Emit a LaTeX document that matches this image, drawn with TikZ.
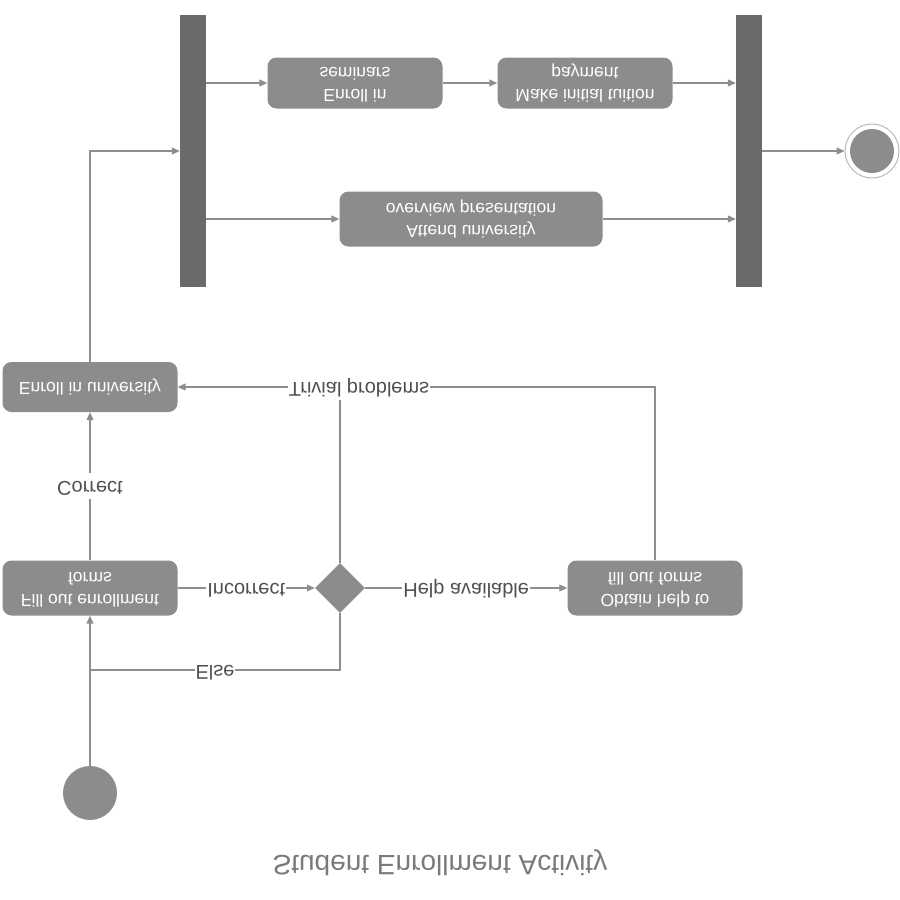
\documentclass[tikz,border=0pt]{standalone}
\usepackage{graphicx}
\usepackage{fontspec}
\setmainfont{Liberation Sans}
\usepackage{tikz}
\usetikzlibrary{positioning, shapes.geometric, arrows.meta}

\definecolor{boxgray}{HTML}{8C8C8C}
\definecolor{bargray}{HTML}{6A6A6A}
\definecolor{linegray}{HTML}{8E8E8E}
\definecolor{labelgray}{HTML}{505050}
\definecolor{titlegray}{HTML}{7A7A7A}

% the whole drawing is mirrored top to bottom, text included
\newcommand{\fliptext}[1]{\scalebox{1}[-1]{\begin{tabular}{@{}c@{}}#1\end{tabular}}}

\tikzset{
  activity/.style={rectangle, rounded corners=9pt, fill=boxgray, text=white,
    minimum width=175pt, minimum height=53pt, inner sep=2pt,
    font=\fontsize{17.5}{22}\selectfont},
  bar/.style={rectangle, fill=bargray, minimum width=26pt, minimum height=272pt, inner sep=0pt},
  decision/.style={diamond, fill=boxgray, minimum width=50pt, minimum height=50pt, inner sep=0pt},
  flow/.style={draw=linegray, line width=1.2pt, -{Triangle[length=8pt,width=7pt]}},
  plain/.style={draw=linegray, line width=1.2pt},
  lbl/.style={fill=white, text=labelgray, inner sep=1pt, font=\fontsize{20}{24}\selectfont}
}

\begin{document}
\begin{tikzpicture}[x=1pt, y=-1pt]
    \useasboundingbox (0,0) rectangle (900,900);

    % Start and end states
    \node (start) [circle, fill=boxgray, minimum size=54pt, inner sep=0pt] at (90,793) {};
    \node (final) [circle, draw=gray!55, line width=1pt, minimum size=54pt, inner sep=0pt,
      path picture={\fill[boxgray] (path picture bounding box.center) circle (22pt);}] at (872,151) {};

    % Activities
    \node (fill) [activity, minimum height=55pt] at (90,588) {\fliptext{Fill out enrollment\\forms}};
    \node (dec) [decision] at (340,588) {};
    \node (help) [activity, minimum height=55pt] at (655,588) {\fliptext{Obtain help to\\fill out forms}};
    \node (enroll) [activity, minimum height=50pt] at (90,387) {\fliptext{Enroll in university}};
    \node (fork) [bar] at (193,151) {};
    \node (join) [bar] at (749,151) {};
    \node (seminars) [activity, minimum height=51pt] at (355,83) {\fliptext{Enroll in\\seminars}};
    \node (tuition) [activity, minimum height=51pt] at (585,83) {\fliptext{Make initial tuition\\payment}};
    \node (attend) [activity, minimum width=263pt, minimum height=55pt] at (471,219) {\fliptext{Attend university\\overview presentation}};

    % Title
    \node (title) [text=titlegray, font=\fontsize{28}{32}\selectfont] at (440,862) {\fliptext{Student Enrollment Activity}};

    % Transitions
    \coordinate (elsejoin) at (90,670);
    \draw[flow] (start) -- (fill);
    \draw[flow] (fill) -- node[lbl] {\fliptext{Correct}} (enroll);
    \draw[flow] (fill) -- node[lbl] {\fliptext{Incorrect}} (dec);
    \draw[flow] (dec) -- node[lbl] {\fliptext{Help available}} (help);
    \draw[plain] (dec.south) |- node[lbl, pos=0.75] {\fliptext{Else}} (elsejoin);
    \draw[plain] (dec.north) -- (dec.north |- enroll);
    \draw[flow] (help.north) |- node[lbl, pos=0.81] {\fliptext{Trivial problems}} (enroll.east);
    \draw[flow] (enroll.north) |- (fork.west);

    % Fork and join
    \foreach \act in {seminars, attend}
      \draw[flow] (fork.east |- \act) -- (\act);
    \draw[flow] (seminars) -- (tuition);
    \foreach \act in {tuition, attend}
      \draw[flow] (\act) -- (\act -| join.west);
    \draw[flow] (join) -- (final);

\end{tikzpicture}
\end{document}
